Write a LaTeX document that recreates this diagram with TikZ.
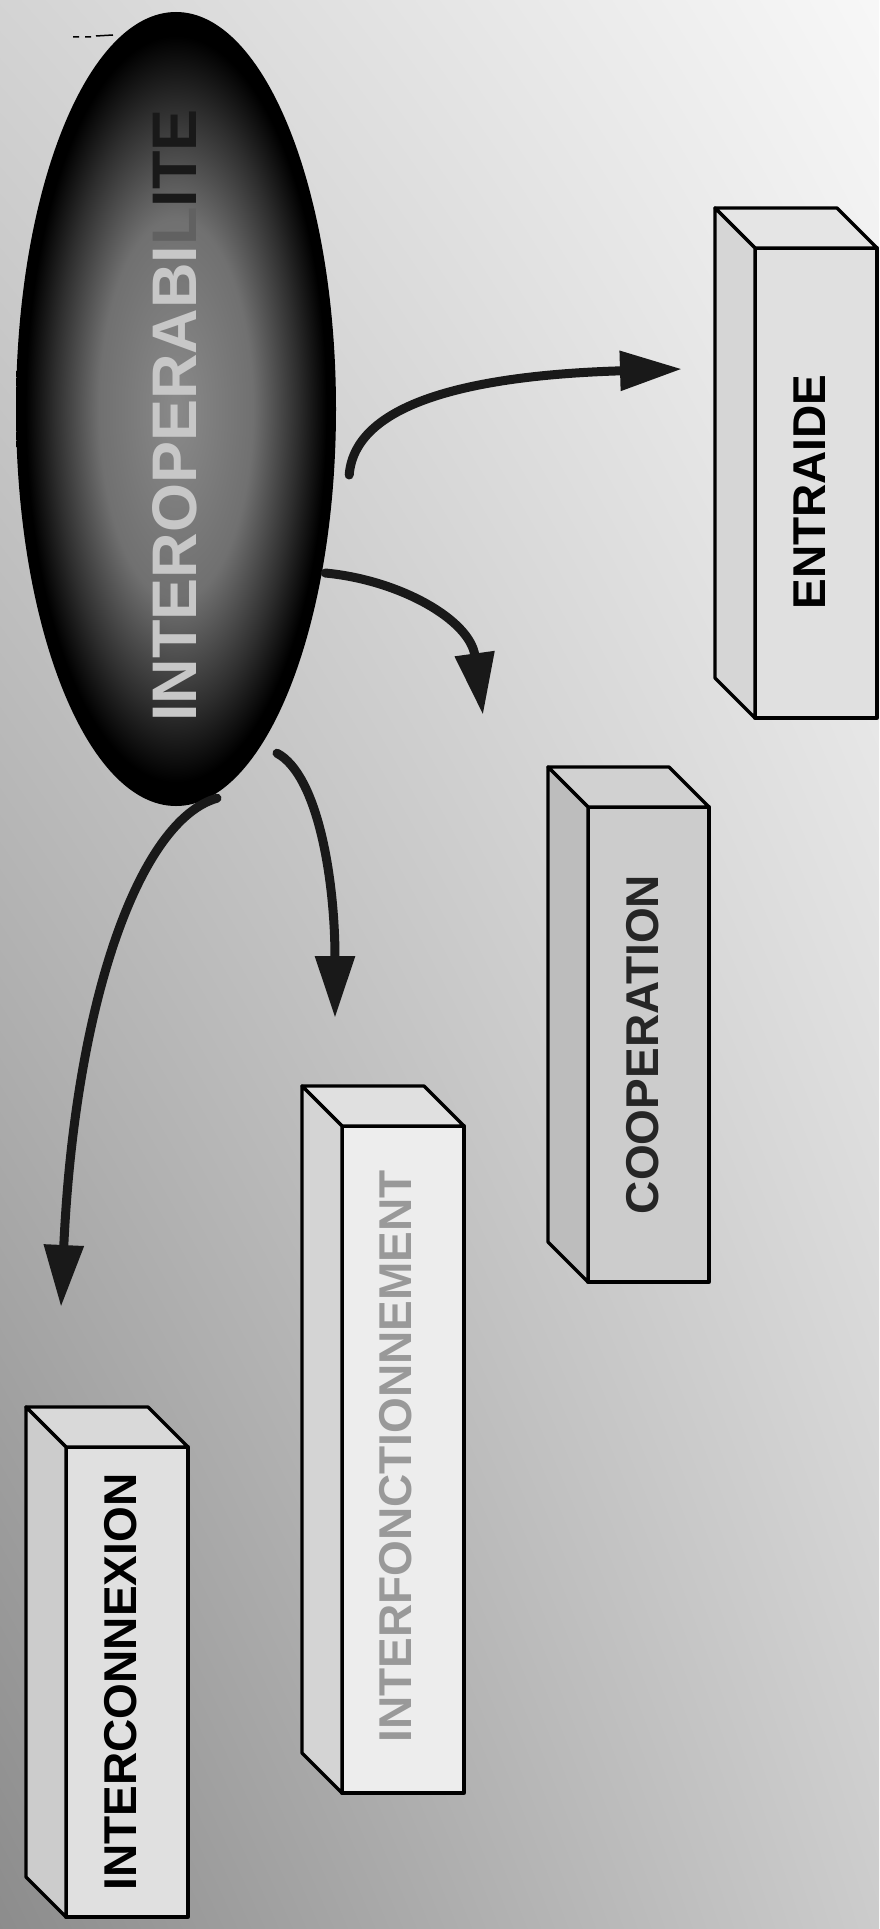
\documentclass[tikz,border=0pt]{standalone}
\usepackage{fontspec}
\setmainfont{Liberation Sans}
\usetikzlibrary{shapes.geometric,arrows.meta,calc,shadings}
\pgfdeclareradialshading{eggshade}{\pgfpoint{0bp}{0bp}}{color(0bp)=(black!46); color(12bp)=(black!56); color(19bp)=(black!82); color(23.5bp)=(black); color(50bp)=(black)}
\newcommand\drawprism[3]{% name, top fill, side fill
  \draw[facebase, fill=#2] (#1.north west) -- (#1.north east) -- ++(-40,-40) -- ($(#1.north west)+(-40,-40)$) -- cycle;
  \draw[facebase, fill=#3] (#1.north west) -- (#1.south west) -- ++(-40,-40) -- ($(#1.north west)+(-40,-40)$) -- cycle;
}
\begin{document}
\begin{tikzpicture}[x=1pt,y=-1pt,
  facebase/.style={draw=black, line width=3.3pt, line join=round},
  front/.style={facebase, rectangle, inner sep=0pt, outer sep=0pt, minimum width=122pt},
  boxlabel/.style={rotate=90, inner sep=0pt, font=\bfseries\fontsize{46}{50}\selectfont},
  flow/.style={line width=9pt, draw=black!90, line cap=round, -{Triangle[length=62pt, width=38pt]}},
  title/.style={rotate=90, anchor=west, inner sep=0pt, text=black!22,
    font=\bfseries\fontsize{63}{68}\selectfont}
]
\useasboundingbox (0,0) rectangle (879,1929);
\shade[upper left=black!17, upper right=black!3, lower left=black!45, lower right=black!20] (0,0) rectangle (879,1929);

% central ellipse
\node[ellipse, shade, shading=eggshade, minimum width=320pt, minimum height=794pt, inner sep=0pt] (ell) at (176,409) {};
\node[title] (ttl) at (175,722) {INTEROPERABI\textcolor{black!62}{L}\textcolor{black!90}{ITE}};
\draw[line width=1.5pt] (73,37) -- (79,37) (85,37) -- (91,37) (96,36) -- (113,35);

% boxes
\node[front, fill=black!12, minimum height=470pt] (inx) at (127,1682) {};
\drawprism{inx}{black!15}{black!20}
\node[boxlabel, text=black] (inxl) at ($(inx.center)+(-6,0)$) {INTERCONNEXION};

\node[front, fill=black!7, minimum height=667pt] (inf) at (403,1459.5) {};
\drawprism{inf}{black!12}{black!17}
\node[boxlabel, text=black!40] (infl) at ($(inf.center)+(-7,-3)$) {INTERFONCTIONNEMENT};

\node[front, fill=black!20, minimum width=121pt, minimum height=475pt] (coo) at (648.5,1044.5) {};
\drawprism{coo}{black!18}{black!26}
\node[boxlabel, text=black!85] (cool) at ($(coo.center)+(-6,0)$) {COOPERATION};

\node[front, fill=black!12, minimum height=470pt] (ent) at (816,483) {};
\drawprism{ent}{black!10}{black!16}
\node[boxlabel, text=black] (entl) at ($(ent.center)+(-6,9)$) {ENTRAIDE};

% arrows
\coordinate (tipE) at (682,369);
\coordinate (tipC) at (483,715);
\coordinate (tipF) at (335,1018);
\coordinate (tipX) at (61,1307);
\draw[flow] ($(ell.east)+(13,66)$) .. controls (355,400) and (480,375) .. (tipE);
\draw[flow] ($(ell.east)+(-11,164)$) .. controls (400,580) and (470,620) .. (tipC);
\draw[flow] ($(ell.south)+(101,-53)$) .. controls (318,775) and (335,880) .. (tipF);
\draw[flow] ($(ell.south)+(41,-8)$) .. controls (140,820) and (75,1000) .. (tipX);
\end{tikzpicture}
\end{document}
